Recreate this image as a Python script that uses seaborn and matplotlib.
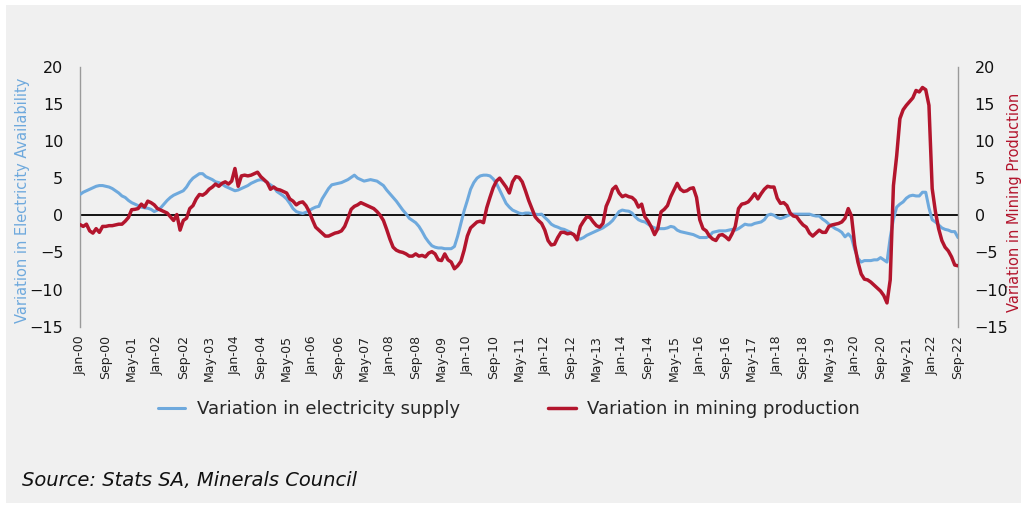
import numpy as np
import pandas as pd
import matplotlib
matplotlib.use("Agg")
import matplotlib.pyplot as plt
from matplotlib.lines import Line2D
from matplotlib.patches import Rectangle
import seaborn as sns

# ---------------- data (monthly, Jan-2000 .. Sep-2022) ----------------
electricity = [
    2.8, 3.1, 3.3, 3.5, 3.7, 3.9, 4.0, 4.0, 3.9, 3.8, 3.6, 3.3, 3.0, 2.6, 2.4, 2.0, 1.7, 1.5, 1.3, 1.1,
    1.0, 0.95, 0.8, 0.5, 0.7, 1.0, 1.5, 2.0, 2.4, 2.7, 2.9, 3.1, 3.3, 3.8, 4.5, 5.0, 5.3, 5.6, 5.6, 5.2,
    5.0, 4.8, 4.5, 4.4, 4.2, 3.9, 3.7, 3.5, 3.3, 3.4, 3.6, 3.8, 4.0, 4.3, 4.5, 4.7, 4.8, 4.7, 4.4, 4.1,
    3.8, 3.2, 2.9, 2.6, 2.2, 1.6, 0.9, 0.5, 0.35, 0.25, 0.4, 0.6, 0.9, 1.1, 1.2, 2.2, 2.9, 3.6, 4.1, 4.2,
    4.3, 4.4, 4.6, 4.8, 5.1, 5.4, 5.0, 4.8, 4.6, 4.7, 4.8, 4.7, 4.6, 4.3, 4.0, 3.4, 2.9, 2.4, 1.9, 1.3,
    0.7, 0.2, -0.4, -0.7, -1.0, -1.5, -2.2, -3.0, -3.6, -4.1, -4.3, -4.4, -4.4, -4.5, -4.5, -4.5, -4.2, -2.8, -1.1, 0.6,
    2.0, 3.5, 4.4, 5.0, 5.3, 5.4, 5.4, 5.3, 4.9, 4.3, 3.4, 2.5, 1.6, 1.1, 0.7, 0.5, 0.3, 0.2, 0.3, 0.3,
    0.2, 0.15, 0.1, 0.15, -0.3, -0.7, -1.2, -1.45, -1.6, -1.8, -1.9, -2.1, -2.3, -2.7, -3.1, -3.2, -3.0, -2.7, -2.5, -2.3,
    -2.1, -1.9, -1.7, -1.4, -1.1, -0.7, -0.1, 0.5, 0.7, 0.6, 0.55, 0.3, -0.2, -0.6, -0.8, -0.9, -1.2, -1.5, -1.7, -1.8,
    -1.8, -1.8, -1.7, -1.5, -1.6, -2.0, -2.2, -2.3, -2.4, -2.5, -2.6, -2.8, -3.0, -3.0, -3.0, -2.8, -2.3, -2.2, -2.1, -2.1,
    -2.1, -2.0, -1.9, -2.0, -1.8, -1.5, -1.2, -1.3, -1.3, -1.1, -1.0, -0.9, -0.6, 0.0, 0.15, 0.0, -0.3, -0.45, -0.3, -0.1,
    0.1, 0.15, 0.15, 0.15, 0.15, 0.15, 0.15, 0.0, -0.1, -0.1, -0.5, -0.8, -1.2, -1.5, -1.8, -2.0, -2.3, -2.9, -2.5, -3.0,
    -4.6, -5.8, -6.3, -6.1, -6.1, -6.1, -6.0, -6.0, -5.7, -6.0, -6.3, -3.0, -0.5, 1.1, 1.5, 1.8, 2.3, 2.6, 2.7, 2.6,
    2.6, 3.1, 3.1, 1.0, -0.6, -0.9, -1.3, -1.7, -1.9, -2.0, -2.2, -2.2, -3.0,
]

mining = [
    -1.25, -1.5, -1.2, -2.1, -2.4, -1.8, -2.3, -1.5, -1.5, -1.4, -1.4, -1.3, -1.2, -1.2, -0.8, -0.3, 0.75, 0.8, 0.9, 1.5,
    1.1, 1.9, 1.7, 1.4, 0.9, 0.7, 0.5, 0.3, -0.2, -0.7, 0.1, -2.0, -0.7, -0.4, 0.9, 1.3, 2.2, 2.8, 2.7, 3.0,
    3.5, 3.8, 4.2, 3.9, 4.3, 4.5, 4.2, 4.6, 6.3, 3.9, 5.3, 5.4, 5.3, 5.4, 5.6, 5.8, 5.2, 4.8, 4.4, 3.5,
    3.8, 3.5, 3.4, 3.2, 3.0, 2.2, 1.9, 1.4, 1.7, 1.8, 1.3, 0.5, -0.6, -1.6, -2.0, -2.4, -2.8, -2.8, -2.6, -2.4,
    -2.3, -2.1, -1.5, -0.4, 0.8, 1.2, 1.4, 1.7, 1.5, 1.3, 1.1, 0.9, 0.5, 0.0, -0.7, -1.9, -3.2, -4.3, -4.7, -4.9,
    -5.0, -5.2, -5.5, -5.5, -5.2, -5.5, -5.4, -5.6, -5.1, -4.9, -5.2, -6.0, -6.1, -5.2, -6.0, -6.3, -7.2, -6.8, -6.2, -4.7,
    -2.8, -1.7, -1.3, -0.9, -0.8, -1.0, 1.0, 2.4, 3.7, 4.6, 5.0, 4.4, 3.8, 3.0, 4.5, 5.2, 5.1, 4.5, 3.3, 2.0,
    0.9, -0.2, -0.7, -1.1, -2.0, -3.4, -4.0, -3.9, -3.0, -2.3, -2.3, -2.5, -2.4, -2.6, -3.3, -1.5, -0.8, -0.2, -0.3, -0.9,
    -1.4, -1.6, -1.1, 1.2, 2.2, 3.5, 3.9, 3.0, 2.5, 2.7, 2.5, 2.4, 2.0, 1.1, 1.5, -0.2, -0.8, -1.6, -2.6, -1.8,
    0.45, 0.8, 1.3, 2.5, 3.4, 4.3, 3.5, 3.2, 3.3, 3.6, 3.7, 2.4, -0.6, -1.8, -2.1, -2.8, -3.2, -3.4, -2.7, -2.6,
    -2.9, -3.3, -2.5, -1.5, 0.9, 1.5, 1.6, 1.8, 2.3, 2.9, 2.2, 2.9, 3.5, 3.9, 3.8, 3.8, 2.3, 1.6, 1.7, 1.3,
    0.3, -0.1, -0.2, -0.8, -1.3, -1.6, -2.4, -2.8, -2.4, -2.0, -2.3, -2.3, -1.5, -1.3, -1.2, -1.1, -0.9, -0.4, 0.9, -0.1,
    -4.0, -6.3, -7.9, -8.6, -8.7, -9.0, -9.4, -9.8, -10.2, -10.8, -11.8, -8.7, 4.0, 8.0, 13.0, 14.2, 14.8, 15.3, 15.8, 16.8,
    16.6, 17.2, 16.9, 14.8, 3.6, 0.5, -1.8, -3.4, -4.3, -4.8, -5.6, -6.7, -6.8,
]

months = pd.date_range("2000-01-01", "2022-09-01", freq="MS")
month_labels = [d.strftime("%b-%y") for d in months]
tick_step = 8
y_ticks = [-15, -10, -5, 0, 5, 10, 15, 20]

left_label = "Variation in Electricity Availability"
right_label = "Variation in Mining Production"
legend_labels = ["Variation in electricity supply", "Variation in mining production"]
source_text = "Source: Stats SA, Minerals Council"

n = min(len(months), len(electricity), len(mining))
df = pd.DataFrame({
    "idx": np.arange(n),
    "electricity": electricity[:n],
    "mining": mining[:n],
})

# ---------------- style ----------------
BLUE = "#6EA9DD"
RED = "#B3152D"
BG = "#F0F0F0"
sns.set_style("white")
plt.rcParams["font.family"] = ["DejaVu Sans"]

W, H = 1027, 508
fig = plt.figure(figsize=(W / 100, H / 100), dpi=100, facecolor="white")
fig.patches.append(Rectangle((6 / W, 5 / H), (W - 12) / W, (H - 10) / H,
                             transform=fig.transFigure, facecolor=BG,
                             edgecolor="none", zorder=-10))

left, right = 80 / W, 958 / W
top, bottom = 1 - 66.7 / H, 1 - 326.7 / H
ax = fig.add_axes([left, bottom, right - left, top - bottom])
ax.set_facecolor("none")
ax2 = ax.twinx()

sns.lineplot(data=df, x="idx", y="electricity", ax=ax, color=BLUE, lw=2.2, zorder=3)
sns.lineplot(data=df, x="idx", y="mining", ax=ax2, color=RED, lw=2.5, zorder=3)

for a in (ax, ax2):
    a.set_ylim(-15, 20)
    a.set_yticks(y_ticks)
    a.set_xlim(0, n - 1)
    for s in a.spines.values():
        s.set_visible(False)

ax.axhline(0, color="black", lw=1.3, zorder=2)
ax.spines["left"].set_visible(True)
ax.spines["left"].set_color("#9A9A9A")
ax.spines["left"].set_linewidth(1.0)
ax2.spines["right"].set_visible(True)
ax2.spines["right"].set_color("#9A9A9A")
ax2.spines["right"].set_linewidth(1.0)

ax.set_xticks(np.arange(0, n, tick_step))
ax.set_xticklabels([month_labels[i] for i in range(0, n, tick_step)],
                   rotation=90, fontsize=9, color="#222222")
ax.tick_params(axis="x", length=0, pad=6)
ax.tick_params(axis="y", length=0, pad=12, labelsize=11.5, labelcolor="#111111")
ax2.tick_params(axis="y", length=0, pad=12, labelsize=11.5, labelcolor="#111111")

ax.set_xlabel("")
ax.set_ylabel(left_label, color=BLUE, fontsize=10.5)
ax.yaxis.set_label_coords((30 - 80) / 878, 0.5 - 4 / 260)
ax2.set_ylabel(right_label, color=RED, fontsize=10.5)
ax2.yaxis.set_label_coords((1007 - 80) / 878, 0.5 - 6 / 260)

handles = [Line2D([0], [0], color=BLUE, lw=2.2), Line2D([0], [0], color=RED, lw=2.5)]
fig.legend(handles, legend_labels, loc="center", bbox_to_anchor=(509 / W, 1 - 409 / H),
           ncol=2, frameon=False, fontsize=13, handlelength=1.5, columnspacing=4.9,
           handletextpad=0.65)

fig.text(22 / W, 1 - 481 / H, source_text, fontsize=14, style="italic",
         color="#111111", va="center", ha="left")

fig.savefig("out.png", dpi=100, facecolor=fig.get_facecolor())
